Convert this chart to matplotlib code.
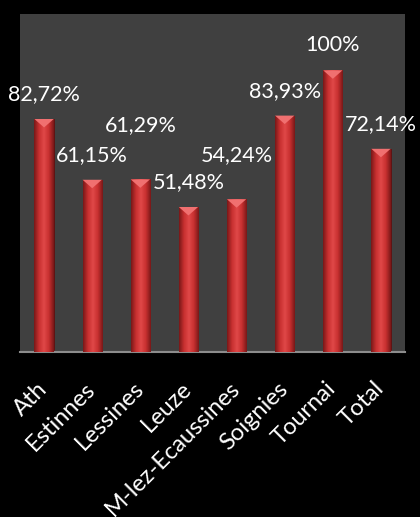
import matplotlib
matplotlib.use("Agg")
import matplotlib.pyplot as plt
import numpy as np
from matplotlib.patches import Polygon
from matplotlib.colors import LinearSegmentedColormap

categories = ["Ath", "Estinnes", "Lessines", "Leuze", "M-lez-Ecaussines", "Soignies", "Tournai", "Total"]
values = [82.72, 61.15, 61.29, 51.48, 54.24, 83.93, 100.0, 72.14]
labels = ["82,72%", "61,15%", "61,29%", "51,48%", "54,24%", "83,93%", "100%", "72,14%"]
label_offsets_pt = [18, 18, 39, 18, 32, 18, 18, 18]

plt.rcParams['font.family'] = ['Lato', 'DejaVu Sans']

fig = plt.figure(figsize=(4.2, 5.17), dpi=100, facecolor='black')
ax = fig.add_axes([20/420, 1-352/517, 385/420, 338/517])
ax.set_facecolor('#404040')

x = np.arange(len(categories))
bars = ax.bar(x, values, width=0.4, color='#c83232', edgecolor='#5a0e0e', linewidth=0.6, zorder=2)

cmap = LinearSegmentedColormap.from_list('redgrad', ['#7a1818', '#c83030', '#e04848', '#c83030', '#7a1818'])
grad = np.linspace(0, 1, 64).reshape(1, -1)
for b in bars:
    x0, w, h = b.get_x(), b.get_width(), b.get_height()
    im = ax.imshow(grad, cmap=cmap, aspect='auto', extent=[x0, x0 + w, 0, h], zorder=3)
    im.set_clip_path(b)
    tri = Polygon([[x0, h], [x0 + w, h], [x0 + w / 2, h - 3.0]], closed=True,
                  facecolor='#f07070', edgecolor='none', zorder=4)
    ax.add_patch(tri)

for xi, v, lab, off in zip(x, values, labels, label_offsets_pt):
    ax.annotate(lab, (xi, v), xytext=(0, off), textcoords='offset points',
                ha='center', va='center', color='white', fontsize=15.5)

ax.set_xlim(-0.5, len(categories) - 0.5)
ax.set_ylim(0, 120)
ax.set_yticks([])
ax.set_xticks(x)
ax.set_xticklabels(categories, rotation=45, ha='right', va='center', rotation_mode='anchor',
                   color='white', fontsize=17)
ax.tick_params(axis='x', length=0, pad=24)
for s in ['top', 'right', 'left']:
    ax.spines[s].set_visible(False)
ax.spines['bottom'].set_color('#8c8c8c')
ax.spines['bottom'].set_linewidth(1.5)

fig.savefig('out.png', dpi=100, facecolor='black')
